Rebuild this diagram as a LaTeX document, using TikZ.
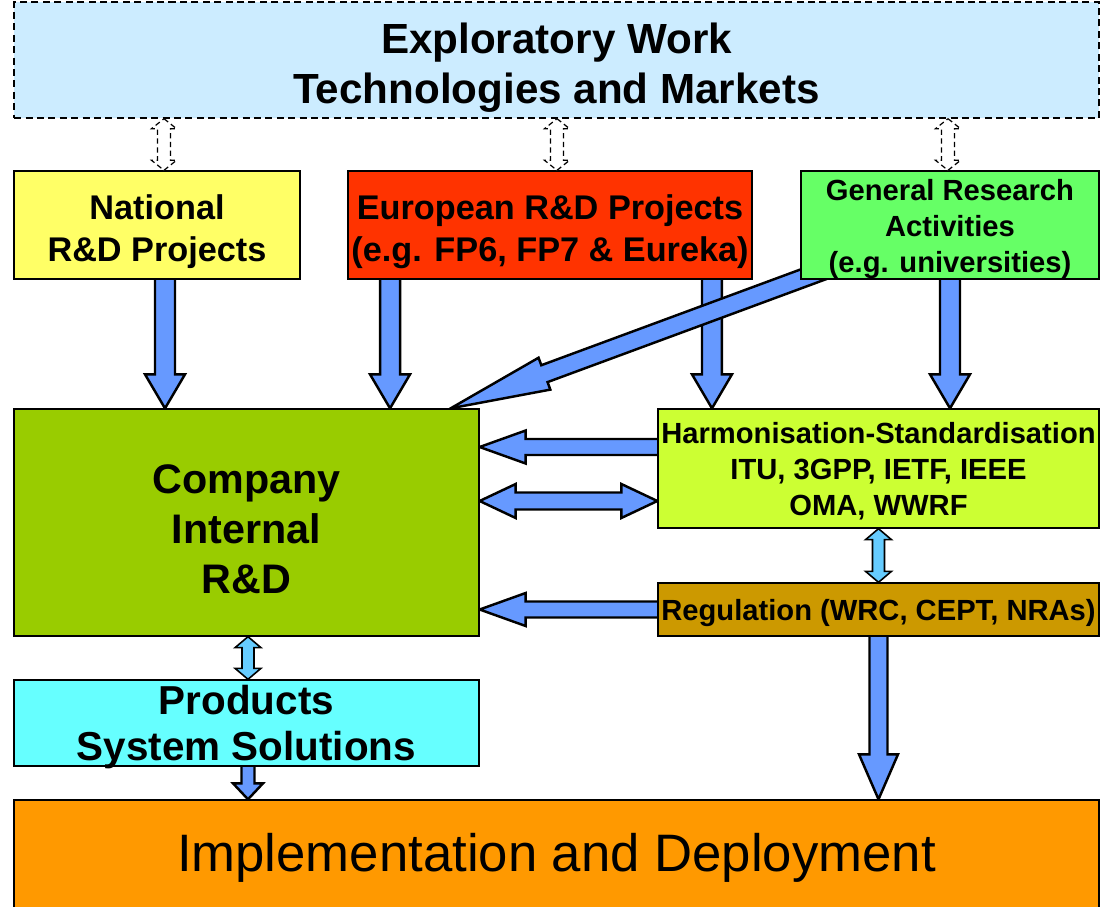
\documentclass[tikz,border=0pt]{standalone}
\usepackage{fontspec}
\setmainfont{Liberation Sans}
\usetikzlibrary{calc,positioning}
\pgfdeclarelayer{background}
\pgfsetlayers{background,main}
\definecolor{explblue}{HTML}{CCECFF}
\definecolor{natyellow}{HTML}{FFFF66}
\definecolor{eured}{HTML}{FF3300}
\definecolor{gengreen}{HTML}{66FF66}
\definecolor{compgreen}{HTML}{99CC00}
\definecolor{harmgreen}{HTML}{CCFF33}
\definecolor{regbrown}{HTML}{CC9900}
\definecolor{prodcyan}{HTML}{66FFFF}
\definecolor{implorange}{HTML}{FF9900}
\definecolor{arrblue}{HTML}{6699FF}
\definecolor{arrlight}{HTML}{66CCFF}
\tikzset{
box/.style={draw=black,line width=0.8pt,inner sep=0pt},
boxtxt/.style={align=center,inner sep=0pt},
bigarrow/.style={draw=black,fill=arrblue,line width=1.4pt,line join=miter},
smallarrow/.style={draw=black,fill=arrlight,line width=0.9pt,line join=miter},
dasharrow/.style={draw=black,fill=white,line width=0.7pt,dash pattern=on 3pt off 2pt}
}
% block arrow: [style]{from}{to}{shaft half width}{head half width}{head length}
\newcommand{\fatarrow}[6][]{%
\coordinate (fa-h) at ($(#3)!#6!(#2)$);
\draw[#1] ($(#2)!#4!90:(#3)$)--($(fa-h)!#4!90:(#3)$)--($(fa-h)!#5!90:(#3)$)--(#3)
--($(fa-h)!#5!-90:(#3)$)--($(fa-h)!#4!-90:(#3)$)--($(#2)!#4!-90:(#3)$)--cycle;}
\newcommand{\twinarrow}[6][]{%
\coordinate (ta-a) at ($(#2)!#6!(#3)$);
\coordinate (ta-b) at ($(#3)!#6!(#2)$);
\draw[#1] (#2)--($(ta-a)!#5!90:(#3)$)--($(ta-a)!#4!90:(#3)$)--($(ta-b)!#4!90:(#3)$)
--($(ta-b)!#5!90:(#3)$)--(#3)--($(ta-b)!#5!-90:(#3)$)--($(ta-b)!#4!-90:(#3)$)
--($(ta-a)!#4!-90:(#3)$)--($(ta-a)!#5!-90:(#3)$)--cycle;}

\begin{document}
\begin{tikzpicture}[x=0.02cm,y=-0.02cm]
\clip(0,0)rectangle(1101,906);
\node[box,fill=explblue,dash pattern=on 4pt off 2.5pt,minimum width=21.7cm,minimum height=2.32cm](explore)at(556.5,60){};
\node[boxtxt,font=\fontsize{24}{28.5}\selectfont\bfseries](explore-t)at([yshift=-0.16cm]explore){Exploratory Work\\Technologies and Markets};
\node[box,fill=natyellow,minimum width=5.72cm,minimum height=2.16cm](national)at(157,225){};
\node[boxtxt,font=\fontsize{19.5}{24}\selectfont\bfseries](national-t)at([yshift=-0.14cm]national){National\\R\&D Projects};
\node[box,fill=eured,minimum width=8.08cm,minimum height=2.16cm](european)at(550,225){};
\node[boxtxt,font=\fontsize{19.5}{24}\selectfont\bfseries](european-t)at([yshift=-0.14cm]european){European R\&D Projects\\(e.g. FP6, FP7 \& Eureka)};
\node[box,fill=gengreen,minimum width=5.96cm,minimum height=2.16cm](general)at(950,225){};
\node[boxtxt,font=\fontsize{16.6}{20.5}\selectfont\bfseries](general-t)at([yshift=-0.08cm]general){General Research\\Activities\\(e.g. universities)};
\node[box,fill=compgreen,minimum width=9.3cm,minimum height=4.54cm](company)at(246.5,522.5){};
\node[boxtxt,font=\fontsize{23.5}{28.5}\selectfont\bfseries](company-t)at([yshift=-0.14cm]company){Company\\Internal\\R\&D};
\node[box,fill=harmgreen,minimum width=8.82cm,minimum height=2.38cm](harmon)at(878.5,468.5){};
\node[boxtxt,font=\fontsize{16.6}{20.5}\selectfont\bfseries](harmon-t)at([yshift=-0.06cm]harmon){Harmonisation-Standardisation\\ITU, 3GPP, IETF, IEEE\\OMA, WWRF};
\node[box,fill=regbrown,minimum width=8.82cm,minimum height=1.06cm](regul)at(878.5,609.5){};
\node[boxtxt,font=\fontsize{16.6}{20.5}\selectfont\bfseries](regul-t)at([yshift=-0.08cm]regul){Regulation (WRC, CEPT, NRAs)};
\node[box,fill=prodcyan,minimum width=9.3cm,minimum height=1.72cm](products)at(246.5,723){};
\node[boxtxt,font=\fontsize{23}{26.7}\selectfont\bfseries](products-t)at([yshift=-0.08cm]products){Products\\System Solutions};
\node[box,fill=implorange,minimum width=21.7cm,minimum height=2.2cm](implement)at(556.5,855){};
\node[boxtxt,font=\fontsize{30}{36}\selectfont](implement-t)at([yshift=-0.06cm]implement){Implementation and Deployment};

\begin{pgfonlayer}{background}
\fill[white](0,0)rectangle(1101,906);
\coordinate(n1)at([xshift=0.16cm,yshift=0.2cm]national.south);
\coordinate(n2)at(n1|-company.north);
\fatarrow[bigarrow]{n1}{n2}{0.2cm}{0.4cm}{0.68cm}
\coordinate(e1)at([xshift=-3.2cm,yshift=0.2cm]european.south);
\coordinate(e2)at(e1|-company.north);
\fatarrow[bigarrow]{e1}{e2}{0.2cm}{0.4cm}{0.68cm}
\coordinate(e3)at([xshift=3.24cm,yshift=0.2cm]european.south);
\coordinate(e4)at(e3|-harmon.north);
\fatarrow[bigarrow]{e3}{e4}{0.2cm}{0.4cm}{0.68cm}
\coordinate(g1)at([yshift=0.2cm]general.south);
\coordinate(g2)at(g1|-harmon.north);
\fatarrow[bigarrow]{g1}{g2}{0.2cm}{0.4cm}{0.68cm}
\coordinate(g3)at([xshift=0.78cm,yshift=0.3cm]general.south west);
\coordinate(g4)at([xshift=-0.58cm]company.north east);
\fatarrow[bigarrow]{g3}{g4}{0.18cm}{0.34cm}{2cm}
\coordinate(h1)at([xshift=0.2cm,yshift=0.43cm]harmon.west);
\coordinate(h2)at(h1-|company.east);
\fatarrow[bigarrow]{h1}{h2}{0.16cm}{0.33cm}{0.92cm}
\coordinate(h3)at([yshift=-0.65cm]harmon.west);
\coordinate(h4)at(h3-|company.east);
\twinarrow[bigarrow]{h4}{h3}{0.17cm}{0.34cm}{0.72cm}
\coordinate(r1)at([xshift=0.2cm]regul.west);
\coordinate(r2)at(r1-|company.east);
\fatarrow[bigarrow]{r1}{r2}{0.16cm}{0.33cm}{0.92cm}
\coordinate(r3)at([yshift=0.2cm]regul.south);
\coordinate(r4)at(r3|-implement.north);
\fatarrow[bigarrow]{r3}{r4}{0.18cm}{0.39cm}{0.9cm}
\coordinate(p1)at([xshift=0.03cm,yshift=0.2cm]products.south);
\coordinate(p2)at(p1|-implement.north);
\fatarrow[bigarrow]{p1}{p2}{0.13cm}{0.3cm}{0.32cm}
\end{pgfonlayer}
\twinarrow[smallarrow]{harmon.south}{regul.north}{0.12cm}{0.26cm}{0.22cm}
\coordinate(c1)at([xshift=0.03cm]company.south);
\coordinate(c2)at(c1|-products.north);
\twinarrow[smallarrow]{c1}{c2}{0.12cm}{0.26cm}{0.22cm}
\foreach \src/\dx in {national/0.14cm,european/0.14cm,general/-0.04cm}{
\coordinate(x1)at([xshift=\dx]\src.north);
\coordinate(x2)at(x1|-explore.south);
\twinarrow[dasharrow]{x2}{x1}{0.13cm}{0.25cm}{0.2cm}
}
\end{tikzpicture}
\end{document}
